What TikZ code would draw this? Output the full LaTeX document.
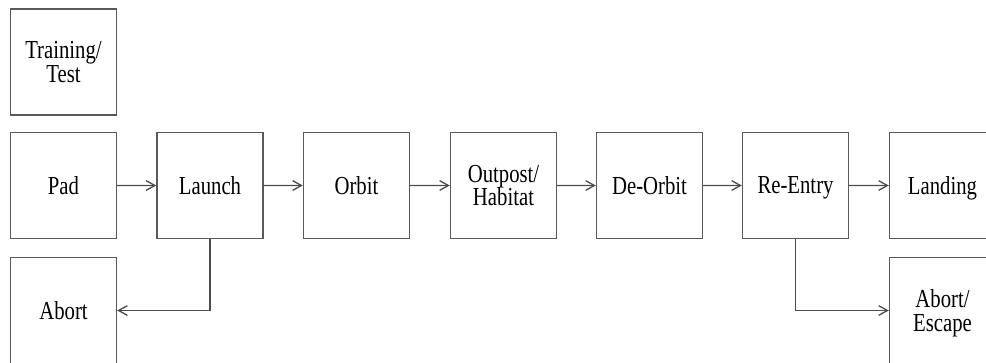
\documentclass[tikz,border=0pt]{standalone}
\usepackage{fontspec}
\setmainfont{Liberation Serif}
\usepackage{tikz}
\usetikzlibrary{arrows.meta}
\tikzset{
	stagestyle/.style={rectangle,draw=black!65,line width=0.8pt,fill=white,yscale=1.25,transform shape,minimum width=2.12cm,minimum height=1.696cm,align=center,inner sep=1pt,text depth=0pt},
	flowstyle/.style={draw=black!70,line width=0.75pt,-{Straight Barb[length=5pt,width=5.5pt]}}
}

\begin{document}
\begin{tikzpicture}
	\fontsize{11.8}{10.8}\selectfont
	\useasboundingbox (0,0) rectangle (19.72,7.24);
	\node[stagestyle] (training) at (1.27,6.0) {Training/\\Test};
	\node[stagestyle] (pad) at (1.27,3.53) {Pad};
	\node[stagestyle] (launch) at (4.2,3.53) {Launch};
	\node[stagestyle] (orbit) at (7.13,3.53) {Orbit};
	\node[stagestyle] (outpost) at (10.07,3.53) {Outpost/\\Habitat};
	\node[stagestyle] (deorbit) at (12.99,3.53) {De-Orbit};
	\node[stagestyle] (reentry) at (15.91,3.53) {Re-Entry};
	\node[stagestyle] (landing) at (18.85,3.53) {Landing};
	\node[stagestyle] (abort) at (1.27,1.03) {Abort};
	\node[stagestyle] (escape) at (18.85,1.03) {Abort/\\Escape};
	\draw[flowstyle] (pad)--(launch);
	\draw[flowstyle] (launch)--(orbit);
	\draw[flowstyle] (orbit)--(outpost);
	\draw[flowstyle] (outpost)--(deorbit);
	\draw[flowstyle] (deorbit)--(reentry);
	\draw[flowstyle] (reentry)--(landing);
	\draw[flowstyle] (launch.south) |- (abort.east);
	\draw[flowstyle] (reentry.south) |- (escape.west);
\end{tikzpicture}
\end{document}
